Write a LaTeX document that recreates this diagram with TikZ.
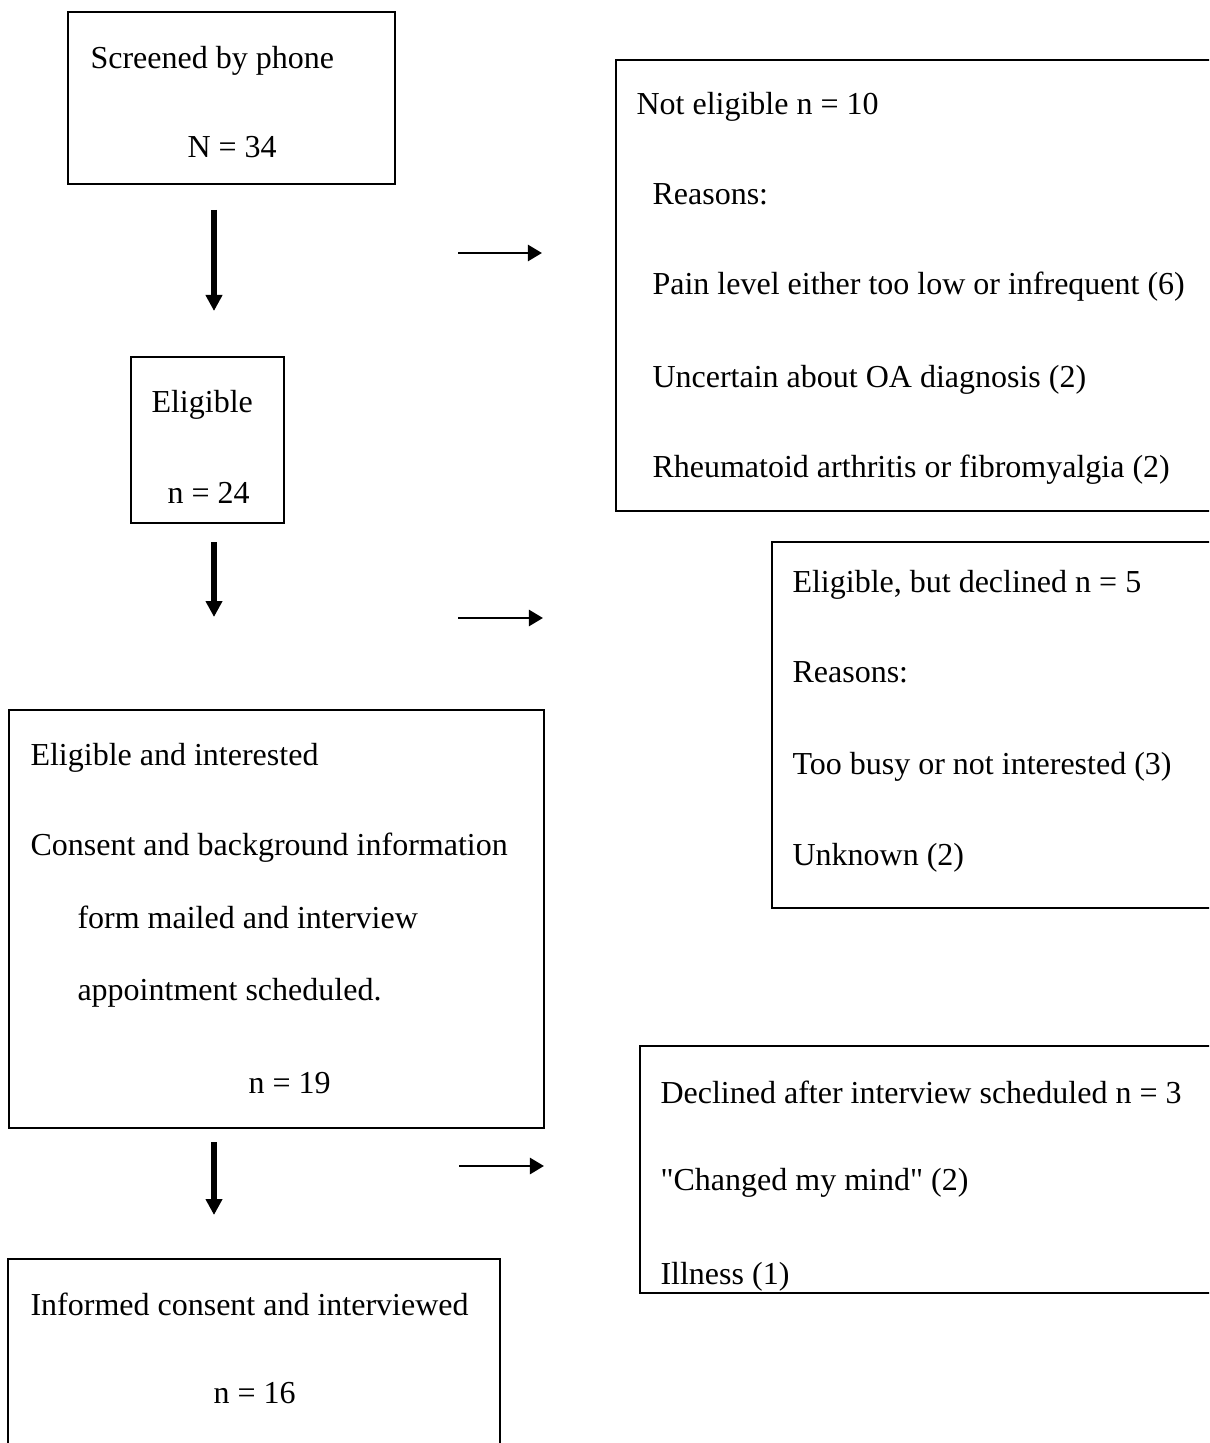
\documentclass[tikz,border=0pt]{standalone}
\usepackage{fontspec}
\setmainfont{Liberation Serif}
\usetikzlibrary{arrows.meta}

\newdimen\pxu
\pxu=0.375pt

\begin{document}
\begin{tikzpicture}[x=0.375pt,y=-0.375pt,
                    box/.style={draw,line width=0.9pt,inner sep=0pt,outer sep=0pt,anchor=north west},
                    txt/.style={anchor=base west,inner sep=0pt,font=\fontsize{12}{14}\selectfont},
                    downarr/.style={line width=2pt,-{Triangle[length=6pt,width=6pt]}},
                    sidearr/.style={line width=1.1pt,-{Triangle[length=5.3pt,width=6pt]}}]
  \clip (0,0) rectangle (1209,1443);
  % boxes
  \node[box,minimum width=327*\pxu,minimum height=172*\pxu] (screen) at (68,12) {};
  \node[box,minimum width=620*\pxu,minimum height=451*\pxu] (noteleg) at (616,60) {};
  \node[box,minimum width=153*\pxu,minimum height=166*\pxu] (elig) at (131,357) {};
  \node[box,minimum width=460*\pxu,minimum height=366*\pxu] (decl) at (772,542) {};
  \node[box,minimum width=535*\pxu,minimum height=418*\pxu] (interest) at (9,710) {};
  \node[box,minimum width=600*\pxu,minimum height=247*\pxu] (later) at (640,1046) {};
  \node[box,minimum width=492*\pxu,minimum height=220*\pxu] (intv) at (8,1259) {};

  % texts
  \node[txt] (t1a) at (90,69) {Screened by phone};
  \node[txt] (t1b) at (187,158) {N = 34};

  \node[txt] (t2a) at (636,115) {Not eligible n = 10};
  \node[txt] (t2b) at (652,205) {Reasons:};
  \node[txt] (t2c) at (652,295) {Pain level either too low or infrequent (6)};
  \node[txt] (t2d) at (652,387) {Uncertain about OA diagnosis (2)};
  \node[txt] (t2e) at (652,477) {Rheumatoid arthritis or fibromyalgia (2)};

  \node[txt] (t3a) at (151,413) {Eligible};
  \node[txt] (t3b) at (167,503) {n = 24};

  \node[txt] (t4a) at (792,592) {Eligible, but declined n = 5};
  \node[txt] (t4b) at (792,682) {Reasons:};
  \node[txt] (t4c) at (792,774) {Too busy or not interested (3)};
  \node[txt] (t4d) at (792,865) {Unknown (2)};

  \node[txt] (t5a) at (30,765) {Eligible and interested};
  \node[txt] (t5b) at (30,855) {Consent and background information};
  \node[txt] (t5c) at (77,928) {form mailed and interview};
  \node[txt] (t5d) at (77,1000) {appointment scheduled.};
  \node[txt] (t5e) at (248,1093) {n = 19};

  \node[txt] (t6a) at (660,1103) {Declined after interview scheduled n = 3};
  \node[txt] (t6b) at (660,1190) {\textquotedbl Changed my mind\textquotedbl{} (2)};
  \node[txt] (t6c) at (660,1284) {Illness (1)};

  \node[txt] (t7a) at (30,1315) {Informed consent and interviewed};
  \node[txt] (t7b) at (213,1403) {n = 16};

  % arrows
  \coordinate (d1s) at (214,210);  \coordinate (d1e) at (214,311);
  \coordinate (d2s) at (214,542);  \coordinate (d2e) at (214,617);
  \coordinate (d3s) at (214,1142); \coordinate (d3e) at (214,1215);
  \coordinate (s1s) at (458,253);  \coordinate (s1e) at (542,253);
  \coordinate (s2s) at (458,618);  \coordinate (s2e) at (543,618);
  \coordinate (s3s) at (459,1166); \coordinate (s3e) at (544,1166);
  \draw[downarr] (d1s)--(d1e);
  \draw[downarr] (d2s)--(d2e);
  \draw[downarr] (d3s)--(d3e);
  \draw[sidearr] (s1s)--(s1e);
  \draw[sidearr] (s2s)--(s2e);
  \draw[sidearr] (s3s)--(s3e);
\end{tikzpicture}
\end{document}
